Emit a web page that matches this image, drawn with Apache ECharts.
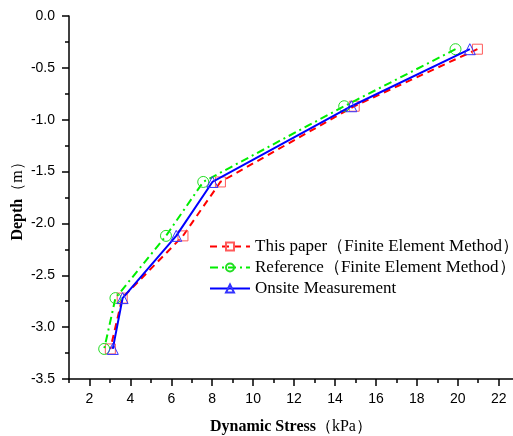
<!DOCTYPE html>
<html>
<head>
<meta charset="utf-8">
<script src="https://cdn.jsdelivr.net/npm/echarts@6/dist/echarts.min.js"></script>
<style>
html, body { margin: 0; padding: 0; background: #fff; }
#chart { width: 513px; height: 436px; }
</style>
</head>
<body>
<div id="chart"></div>
<script>
// 深度 (m)
var depth = [-0.32, -0.87, -1.60, -2.12, -2.72, -3.21];
// 动应力 (kPa)
var paperFem = [20.96, 14.94, 8.40, 6.57, 3.60, 3.02];
var refFem = [19.89, 14.45, 7.56, 5.74, 3.27, 2.72];
var onsite = [20.59, 14.80, 8.01, 6.24, 3.62, 3.14];
var seriesNames = ['This paper（Finite Element Method）', 'Reference（Finite Element Method）', 'Onsite Measurement'];
var xMajor = [2, 4, 6, 8, 10, 12, 14, 16, 18, 20, 22];
var xMinor = [1, 3, 5, 7, 9, 11, 13, 15, 17, 19, 21];

function pairs(xs) {
    var out = [];
    for (var i = 0; i < xs.length; i++) {
        out.push([xs[i], depth[i]]);
    }
    return out;
}

var sans = 'Liberation Sans';
var serif = 'Liberation Serif';
var gridBox = { left: 69, top: 16, right: 0, bottom: 57, outerBoundsMode: 'none', containLabel: false };

var chart = echarts.init(document.getElementById('chart'));
var option = {
    animation: false,
    backgroundColor: '#fff',
    // 第二个grid只用来画x轴的次刻度
    grid: [gridBox, gridBox],
    legend: {
        orient: 'vertical',
        left: 204,
        top: 233,
        itemWidth: 40,
        itemHeight: 10,
        itemGap: 4,
        textStyle: { fontFamily: serif, fontSize: 17, color: '#000' },
        data: seriesNames
    },
    xAxis: [{
        type: 'value',
        gridIndex: 0,
        min: 1,
        max: 22.7,
        name: '{b|Dynamic Stress}{n|（kPa）}',
        nameLocation: 'middle',
        nameGap: 40,
        nameMoveOverlap: false,
        nameTextStyle: {
            rich: {
                b: { fontFamily: serif, fontWeight: 'bold', fontSize: 16, color: '#000' },
                n: { fontFamily: serif, fontSize: 16, color: '#000' }
            }
        },
        axisLine: { show: true, onZero: false, lineStyle: { color: '#000', width: 1.5 } },
        axisTick: { show: true, customValues: xMajor, length: 7, lineStyle: { color: '#000', width: 1.5 } },
        axisLabel: { customValues: xMajor, margin: 13, fontFamily: sans, fontSize: 14, color: '#000' },
        splitLine: { show: false }
    }, {
        type: 'value',
        gridIndex: 1,
        min: 1,
        max: 22.7,
        position: 'bottom',
        axisLine: { show: false, onZero: false },
        axisTick: { show: true, customValues: xMinor, length: 4, lineStyle: { color: '#000', width: 1.5 } },
        axisLabel: { show: false },
        splitLine: { show: false }
    }],
    yAxis: [{
        type: 'value',
        gridIndex: 0,
        min: -3.5,
        max: 0,
        interval: 0.5,
        name: '{b|Depth}{n|（m）}',
        nameLocation: 'middle',
        nameRotate: 90,
        nameGap: 43,
        nameMoveOverlap: false,
        nameTextStyle: {
            rich: {
                b: { fontFamily: serif, fontWeight: 'bold', fontSize: 16, color: '#000' },
                n: { fontFamily: serif, fontSize: 16, color: '#000' }
            }
        },
        axisLine: { show: true, onZero: false, lineStyle: { color: '#000', width: 1.5 } },
        axisTick: { show: true, length: 7, lineStyle: { color: '#000', width: 1.5 } },
        minorTick: { show: true, splitNumber: 2, length: 4, lineStyle: { color: '#000', width: 1.5 } },
        axisLabel: {
            margin: 14,
            fontFamily: sans,
            fontSize: 14,
            color: '#000',
            formatter: function (v) { return v.toFixed(1); }
        },
        splitLine: { show: false }
    }, {
        type: 'value',
        gridIndex: 1,
        min: -3.5,
        max: 0,
        show: false
    }],
    series: [{
        name: seriesNames[0],
        type: 'line',
        data: pairs(paperFem),
        symbol: 'rect',
        symbolSize: 10,
        z: 2,
        lineStyle: { color: '#ff0000', width: 2, type: [7, 5] },
        itemStyle: { color: 'rgba(0,0,0,0)', borderColor: '#ff5a5a', borderWidth: 1 }
    }, {
        name: seriesNames[1],
        type: 'line',
        data: pairs(refFem),
        symbol: 'circle',
        symbolSize: 11,
        z: 3,
        lineStyle: { color: '#00ee00', width: 2, type: [8, 4, 2, 4] },
        itemStyle: { color: 'rgba(0,0,0,0)', borderColor: '#22dd22', borderWidth: 1 }
    }, {
        name: seriesNames[2],
        type: 'line',
        data: pairs(onsite),
        symbol: 'triangle',
        symbolSize: 11,
        z: 4,
        lineStyle: { color: '#0000ff', width: 2, type: 'solid' },
        itemStyle: { color: 'rgba(0,0,0,0)', borderColor: '#3333ff', borderWidth: 1 }
    }]
};
chart.setOption(option);
</script>
</body>
</html>
